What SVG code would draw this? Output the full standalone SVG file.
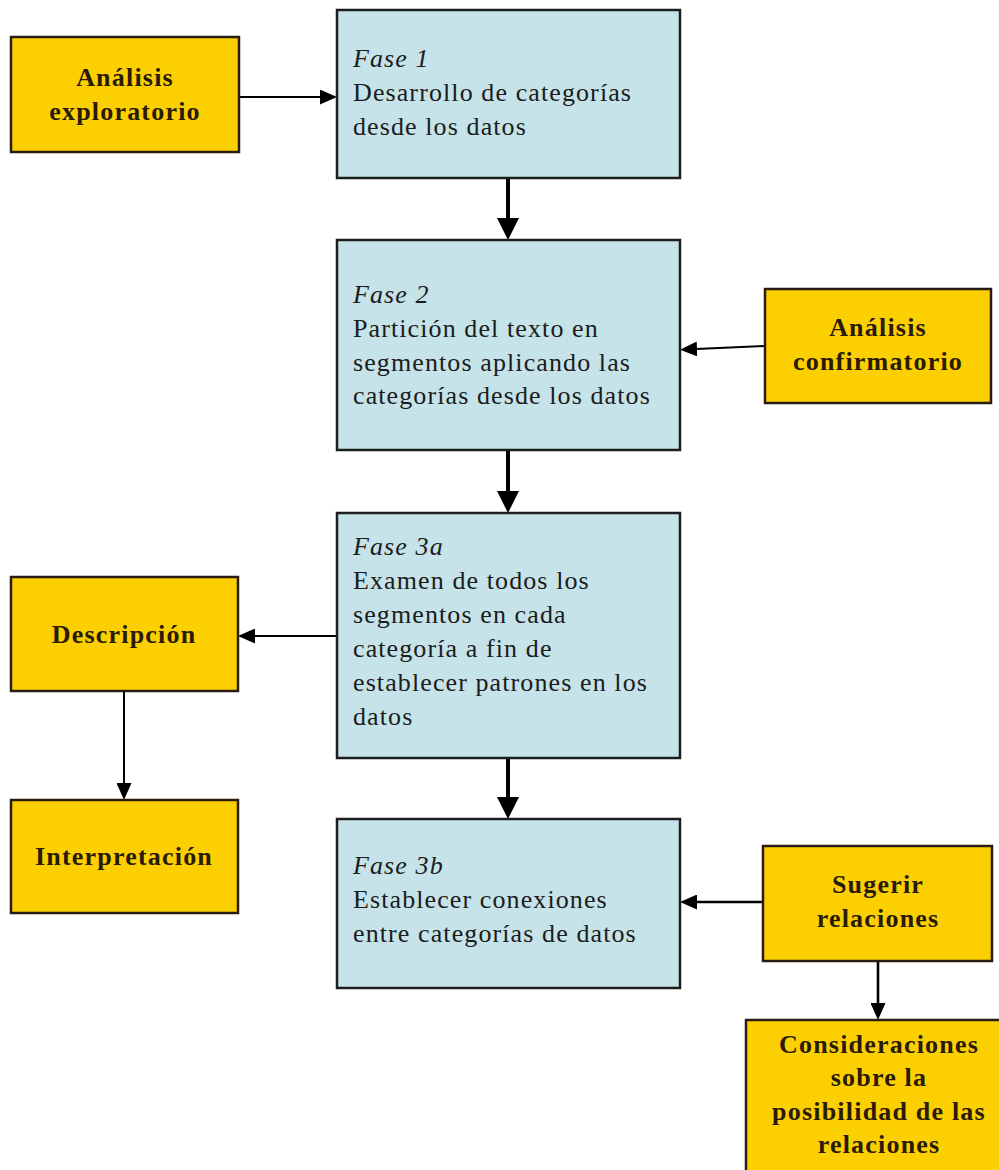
<svg xmlns="http://www.w3.org/2000/svg" width="999" height="1170" viewBox="0 0 999 1170">
  <style>
    .phase { fill: #c5e3e8; stroke: #1e1e1e; stroke-width: 2.5; }
    .aux { fill: #fcd000; stroke: #2a1c10; stroke-width: 2.5; }
    .body { font-family: "Liberation Serif", "Times New Roman", serif; font-size: 26px; fill: #1c1c1c; letter-spacing: 1.1px; }
    .tag { font-style: italic; }
    .label { font-family: "Liberation Serif", "Times New Roman", serif; font-size: 26px; font-weight: bold; fill: #2a1a08; letter-spacing: 1.2px; text-anchor: middle; }
    .thick { stroke: #000; stroke-width: 4; fill: none; }
    .thin { stroke: #000; stroke-width: 2; fill: none; }
    .mid { stroke: #000; stroke-width: 2.6; fill: none; }
  </style>
  <defs>
    <marker id="headThick" markerUnits="userSpaceOnUse" viewBox="0 0 22 22" markerWidth="22" markerHeight="22" refX="1" refY="11" orient="auto">
      <path d="M0,0 L22,11 L0,22 z" fill="#000"/>
    </marker>
    <marker id="headThin" markerUnits="userSpaceOnUse" viewBox="0 0 17 15" markerWidth="17" markerHeight="15" refX="1" refY="7.5" orient="auto">
      <path d="M0,0 L17,7.5 L0,15 z" fill="#000"/>
    </marker>
  </defs>

  <rect width="999" height="1170" fill="#ffffff"/>

  <!-- connectors -->
  <g id="connectors">
    <line class="thin" x1="239" y1="97" x2="321" y2="97" marker-end="url(#headThin)"/>
    <line class="thick" x1="508" y1="178" x2="508" y2="219" marker-end="url(#headThick)"/>
    <line class="thin" x1="765" y1="346" x2="696" y2="349" marker-end="url(#headThin)"/>
    <line class="thick" x1="508" y1="450" x2="508" y2="492" marker-end="url(#headThick)"/>
    <line class="thin" x1="337" y1="636" x2="254" y2="636" marker-end="url(#headThin)"/>
    <line class="thin" x1="124" y1="691" x2="124" y2="784" marker-end="url(#headThin)"/>
    <line class="thick" x1="508" y1="758" x2="508" y2="798" marker-end="url(#headThick)"/>
    <line class="mid" x1="763" y1="902" x2="696" y2="902" marker-end="url(#headThin)"/>
    <line class="mid" x1="878" y1="961" x2="878" y2="1004" marker-end="url(#headThin)"/>
  </g>

  <!-- auxiliary analysis boxes -->
  <g id="analisis-exploratorio">
    <rect class="aux" x="11" y="37" width="228" height="115"/>
    <text class="label" x="125" y="86">Análisis</text>
    <text class="label" x="125" y="120">exploratorio</text>
  </g>

  <g id="analisis-confirmatorio">
    <rect class="aux" x="765" y="289" width="226" height="114"/>
    <text class="label" x="878" y="336">Análisis</text>
    <text class="label" x="878" y="370">confirmatorio</text>
  </g>

  <g id="descripcion">
    <rect class="aux" x="11" y="577" width="227" height="114"/>
    <text class="label" x="124" y="643">Descripción</text>
  </g>

  <g id="interpretacion">
    <rect class="aux" x="11" y="800" width="227" height="113"/>
    <text class="label" x="124" y="865">Interpretación</text>
  </g>

  <g id="sugerir-relaciones">
    <rect class="aux" x="763" y="846" width="229" height="115"/>
    <text class="label" x="878" y="893">Sugerir</text>
    <text class="label" x="878" y="927">relaciones</text>
  </g>

  <g id="consideraciones">
    <rect class="aux" x="746" y="1020" width="270" height="170"/>
    <text class="label" x="879" y="1053">Consideraciones</text>
    <text class="label" x="879" y="1086">sobre la</text>
    <text class="label" x="879" y="1120">posibilidad de las</text>
    <text class="label" x="879" y="1153">relaciones</text>
  </g>

  <!-- phase boxes -->
  <g id="fase-1">
    <rect class="phase" x="337" y="10" width="343" height="168"/>
    <text class="body tag" x="353" y="67">Fase 1</text>
    <text class="body" x="353" y="101">Desarrollo de categorías</text>
    <text class="body" x="353" y="135">desde los datos</text>
  </g>

  <g id="fase-2">
    <rect class="phase" x="337" y="240" width="343" height="210"/>
    <text class="body tag" x="353" y="303">Fase 2</text>
    <text class="body" x="353" y="337">Partición del texto en</text>
    <text class="body" x="353" y="371">segmentos aplicando las</text>
    <text class="body" x="353" y="404">categorías desde los datos</text>
  </g>

  <g id="fase-3a">
    <rect class="phase" x="337" y="513" width="343" height="245"/>
    <text class="body tag" x="353" y="555">Fase 3a</text>
    <text class="body" x="353" y="589">Examen de todos los</text>
    <text class="body" x="353" y="623">segmentos en cada</text>
    <text class="body" x="353" y="657">categoría a fin de</text>
    <text class="body" x="353" y="691">establecer patrones en los</text>
    <text class="body" x="353" y="725">datos</text>
  </g>

  <g id="fase-3b">
    <rect class="phase" x="337" y="819" width="343" height="169"/>
    <text class="body tag" x="353" y="874">Fase 3b</text>
    <text class="body" x="353" y="908">Establecer conexiones</text>
    <text class="body" x="353" y="942">entre categorías de datos</text>
  </g>
</svg>
